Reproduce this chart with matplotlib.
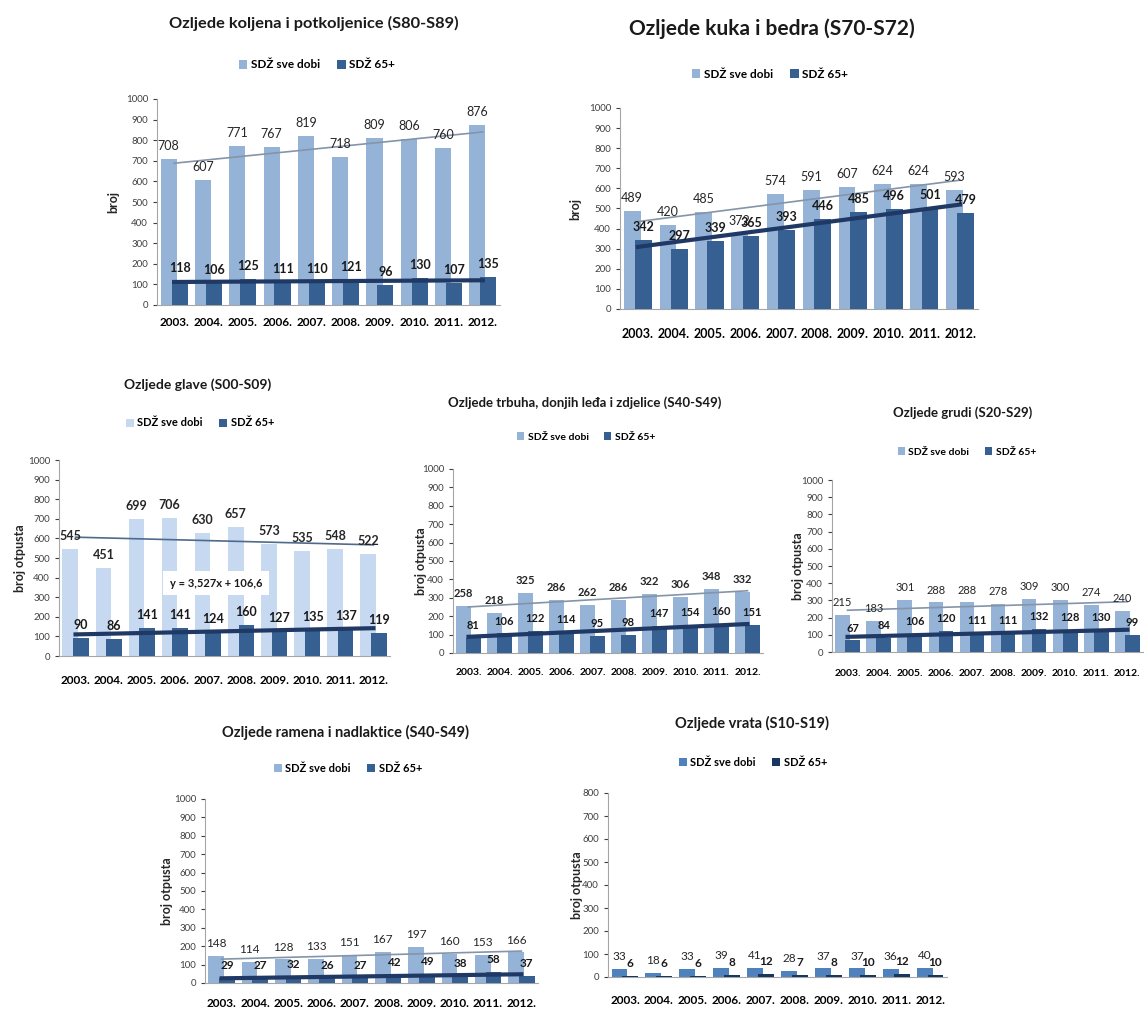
import numpy as np
import matplotlib.pyplot as plt

plt.rcParams['font.family'] = ['Lato', 'DejaVu Sans']

W, H = 1147, 1017

years = ['2003.', '2004.', '2005.', '2006.', '2007.', '2008.', '2009.', '2010.', '2011.', '2012.']

koljeno_sve = [708, 607, 771, 767, 819, 718, 809, 806, 760, 876]
koljeno_65 = [118, 106, 125, 111, 110, 121, 96, 130, 107, 135]
kuk_sve = [489, 420, 485, 372, 574, 591, 607, 624, 624, 593]
kuk_65 = [342, 297, 339, 365, 393, 446, 485, 496, 501, 479]
glava_sve = [545, 451, 699, 706, 630, 657, 573, 535, 548, 522]
glava_65 = [90, 86, 141, 141, 124, 160, 127, 135, 137, 119]
trbuh_sve = [258, 218, 325, 286, 262, 286, 322, 306, 348, 332]
trbuh_65 = [81, 106, 122, 114, 95, 98, 147, 154, 160, 151]
grudi_sve = [215, 183, 301, 288, 288, 278, 309, 300, 274, 240]
grudi_65 = [67, 84, 106, 120, 111, 111, 132, 128, 130, 99]
rame_sve = [148, 114, 128, 133, 151, 167, 197, 160, 153, 166]
rame_65 = [29, 27, 32, 26, 27, 42, 49, 38, 58, 37]
vrat_sve = [33, 18, 33, 39, 41, 28, 37, 37, 36, 40]
vrat_65 = [6, 6, 6, 8, 12, 7, 8, 10, 12, 10]

LIGHT = '#95b3d7'
DARK = '#376092'
NAVY = '#1f3864'

fig = plt.figure(figsize=(W / 100, H / 100), dpi=100)


def panel(left, right, top, bottom, title, tx, ty, lx, ly, ylab_x, sve, s65,
          c_sve=LIGHT, c_65=DARK, ymax=1000, title_size=10, leg_size=8, lab_size=8.5,
          tick_size=8, xpad=10, trend=True, trend_c='#8594a8', bold_sve=False,
          ylabel='broj otpusta'):
    ax = fig.add_axes([left / W, 1 - bottom / H, (right - left) / W, (bottom - top) / H])
    x = np.arange(len(years))
    ax.bar(x - 0.16, sve, 0.47, color=c_sve, label='SDŽ sve dobi', zorder=2)
    ax.bar(x + 0.16, s65, 0.47, color=c_65, label='SDŽ 65+', zorder=3)
    if trend:
        ax.plot(x, np.polyval(np.polyfit(x, sve, 1), x), color=trend_c, lw=1.2, zorder=4)
        ax.plot(x, np.polyval(np.polyfit(x, s65, 1), x), color=NAVY, lw=3, zorder=4)
    for i in range(len(years)):
        ax.annotate(str(sve[i]), (x[i] - 0.16, sve[i]), xytext=(0, 5), textcoords='offset points',
                    ha='center', va='bottom', fontsize=lab_size, color='#262626',
                    fontweight='bold' if bold_sve else 'normal', zorder=5)
        ax.annotate(str(s65[i]), (x[i] + 0.16, s65[i]), xytext=(0, 5), textcoords='offset points',
                    ha='center', va='bottom', fontsize=lab_size, color='#1a1a1a',
                    fontweight='bold', zorder=5)
    ax.set_xlim(-0.5, len(years) - 0.5)
    ax.set_ylim(0, ymax)
    ax.set_yticks(np.arange(0, ymax + 1, 100))
    ax.set_xticks(x)
    ax.set_xticklabels(years, fontweight='bold', fontsize=tick_size)
    ax.tick_params(axis='x', length=0, pad=xpad)
    ax.tick_params(axis='y', length=3, labelsize=7, colors='#404040', width=0.8)
    for s in ['top', 'right']:
        ax.spines[s].set_visible(False)
    for s in ['left', 'bottom']:
        ax.spines[s].set_color('#a6a6a6')
    fig.text(tx / W, 1 - ty / H, title, ha='center', va='center', fontsize=title_size,
             fontweight='bold', color='#1a1a1a')
    fig.text(ylab_x / W, 1 - (top + bottom) / 2 / H, ylabel, rotation=90, ha='center',
             va='center', fontsize=9, fontweight='bold', color='#262626')
    ax.legend(loc='center', bbox_to_anchor=(lx / W, 1 - ly / H), bbox_transform=fig.transFigure,
              ncol=2, frameon=False, handlelength=0.7, handleheight=0.7, handletextpad=0.3,
              columnspacing=1.5, prop={'weight': 'bold', 'size': leg_size})
    return ax


panel(157, 500, 99, 305, 'Ozljede koljena i potkoljenice (S80-S89)', 314, 23, 317, 65, 113,
      koljeno_sve, koljeno_65, ylabel='broj', title_size=11.8, leg_size=8.5, lab_size=9,
      tick_size=8.5, xpad=9)
panel(620, 978, 108, 309, 'Ozljede kuka i bedra (S70-S72)', 772, 29, 770, 74, 575,
      kuk_sve, kuk_65, ylabel='broj', title_size=15, leg_size=8.5, lab_size=9,
      tick_size=9, xpad=14)
ax3 = panel(59, 390, 460, 656, 'Ozljede glave (S00-S09)', 198, 385, 200, 423, 20,
            glava_sve, glava_65, c_sve='#c6d9f1', trend_c='#4f6a8a', bold_sve=True,
            title_size=10, lab_size=9, tick_size=8.5, xpad=14)
ax3.text(4.24, 372, 'y = 3,527x + 106,6', ha='center', va='center', fontsize=8,
         fontweight='bold', color='#1a1a1a', zorder=6,
         bbox=dict(facecolor='white', edgecolor='none', pad=5))
panel(453, 763, 469, 653, 'Ozljede trbuha, donjih leđa i zdjelice (S40-S49)', 585, 403, 586, 437, 421,
      trbuh_sve, trbuh_65, bold_sve=True, title_size=9.5, leg_size=7.5, lab_size=8,
      tick_size=7.5, xpad=11)
panel(832, 1143, 480, 652, 'Ozljede grudi (S20-S29)', 963, 413, 967, 452, 798,
      grudi_sve, grudi_65, title_size=9.5, leg_size=7.5, lab_size=8, tick_size=7.5, xpad=12)
panel(205, 538, 799, 983, 'Ozljede ramena i nadlaktice (S40-S49)', 345, 732, 348, 768, 167,
      rame_sve, rame_65, title_size=10.5, leg_size=8, lab_size=8.5, tick_size=8.5, xpad=11)
panel(608, 947, 793, 977, 'Ozljede vrata (S10-S19)', 752, 723, 753, 762, 577,
      vrat_sve, vrat_65, c_sve='#4f81bd', c_65='#17375e', ymax=800, trend=False,
      title_size=10.5, leg_size=8, lab_size=8.5, tick_size=8.5, xpad=13)

fig.savefig('out.png', dpi=100)
